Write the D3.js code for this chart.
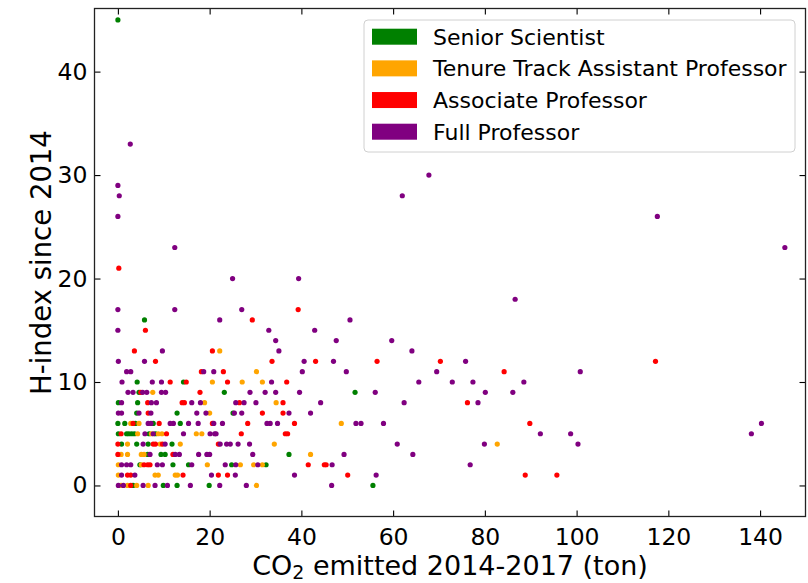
<!DOCTYPE html>
<html>
<head>
<meta charset="utf-8">
<script src="https://cdn.jsdelivr.net/npm/d3@7"></script>
<style>
  html, body { margin: 0; padding: 0; background: #fff; }
  svg { display: block; font-family: "DejaVu Sans", sans-serif; }
</style>
</head>
<body>
<svg id="chart" width="808" height="583"></svg>
<script>
// Positions: [CO2 emitted 2014-2017 (ton), H-index since 2014]
const seniorScientist = [
  [0.0,45],[5.8,16],[4.2,10],[14.3,10],[4.6,9],[23.2,9],[51.7,9],
  [0.1,8],[4.3,8],[4.1,7],[12.9,7],[25.1,7],
  [0.0,6],[1.5,6],[3.8,6],[7.7,6],[13.6,6],
  [0.1,5],[1.9,5],[2.4,5],[3.0,5],[3.6,5],[6.8,5],[8.2,5],
  [0.8,4],[4.1,4],[6.6,4],[11.8,4],
  [6.5,3],[9.4,3],[10.3,3],[37.3,3],
  [4.8,2],[12.0,2],[15.4,2],[24.8,2],[32.3,2],
  [3.3,0],[9.9,0],[12.9,0],[19.9,0],[55.6,0]
];

const tenureTrack = [
  [22.2,13],[30.2,11],[20.6,10],[27.1,10],[31.5,10],[7.6,9],
  [18.9,8],[34.5,8],[20.0,7],[2.8,6],[4.6,6],[48.7,6],
  [4.3,5],[7.3,5],[8.8,5],[9.6,5],[17.1,5],[18.3,5],
  [2.1,4],[9.2,4],[13.6,4],[34.1,4],[82.7,4],
  [0.7,3],[2.1,3],[5.1,3],[5.7,3],[42.0,3],
  [0.1,2],[5.1,2],[19.5,2],[26.7,2],[29.6,2],[31.5,2],
  [0.1,1],[8.1,1],[8.8,1],[12.5,1],[13.0,1],
  [0.7,0],[2.1,0],[4.1,0],[6.6,0],[30.2,0]
];

const associateProfessor = [
  [0.2,21],[39.3,17],[29.3,16],[6.0,15],[3.6,13],[20.6,13],
  [8.2,12],[33.6,12],[43.1,12],[56.5,12],[70.3,12],[117.2,12],
  [18.2,11],[23.0,11],[84.2,11],
  [11.4,10],[14.9,10],[23.9,10],[36.8,10],
  [5.0,9],[17.9,9],
  [6.5,8],[14.0,8],[14.5,8],[26.5,8],[36.0,8],[76.2,8],
  [6.6,7],[31.5,7],[36.0,7],
  [3.3,6],[9.0,6],[20.6,6],[28.3,6],[38.5,6],[89.8,6],
  [0.7,5],[10.6,5],[26.9,5],[36.5,5],[37.0,5],
  [0.0,4],[7.7,4],[8.2,4],[9.7,4],[21.9,4],
  [0.0,3],[12.0,3],
  [5.7,2],[6.5,2],[7.0,2],[41.5,2],[45.0,2],[45.4,2],
  [2.1,1],[2.8,1],[14.2,1],[21.9,1],[23.9,1],[50.1,1],[88.8,1],[95.7,1],
  [2.8,0]
];

const fullProfessor = [
  [2.7,33],[67.8,30],[0.0,29],[0.3,28],[62.0,28],[0.0,26],[117.6,26],
  [12.4,23],[145.4,23],[25.0,20],[39.4,20],[86.6,18],
  [0.0,17],[12.4,17],[27.0,17],[22.2,16],[50.6,16],
  [0.0,15],[32.9,15],[42.9,15],[34.4,14],[47.6,14],[59.7,14],
  [9.7,13],[35.1,13],[64.1,13],
  [0.1,12],[5.8,12],[40.6,12],[47.0,12],[75.8,12],
  [1.9,11],[2.8,11],[18.7,11],[20.9,11],[40.2,11],[49.8,11],[69.5,11],[100.8,11],
  [0.9,10],[7.5,10],[9.5,10],[33.5,10],[65.6,10],[72.9,10],[77.4,10],[88.5,10],
  [2.2,9],[3.3,9],[5.4,9],[6.3,9],[9.5,9],[10.4,9],[28.8,9],[32.1,9],[34.4,9],
  [39.6,9],[56.1,9],[80.1,9],[86.1,9],
  [0.8,8],[7.3,8],[8.4,8],[16.1,8],[18.0,8],[25.7,8],[27.5,8],[30.1,8],[44.2,8],
  [62.4,8],[78.5,8],
  [0.1,7],[0.8,7],[4.6,7],[7.2,7],[17.2,7],[19.2,7],[25.4,7],[27.0,7],[37.3,7],[42.0,7],
  [6.6,6],[7.2,6],[11.4,6],[12.1,6],[15.4,6],[17.5,6],[20.9,6],[22.8,6],[32.5,6],
  [33.2,6],[34.8,6],[51.9,6],[53.0,6],[57.9,6],[140.3,6],
  [5.9,5],[7.7,5],[14.3,5],[20.1,5],[21.1,5],[21.4,5],[92.1,5],[98.7,5],[138.1,5],
  [5.5,4],[10.3,4],[22.3,4],[23.7,4],[24.5,4],[26.2,4],[28.7,4],[60.9,4],[79.9,4],[100.3,4],
  [7.0,3],[12.5,3],[13.4,3],[17.6,3],[19.4,3],[20.0,3],[29.4,3],[49.3,3],[64.3,3],
  [0.8,2],[1.9,2],[2.8,2],[8.6,2],[9.7,2],[16.1,2],[23.4,2],[25.7,2],[30.5,2],[46.7,2],[76.8,2],
  [0.8,1],[3.7,1],[20.4,1],[25.6,1],[38.5,1],[56.3,1],
  [0.1,0],[1.2,0],[5.5,0],[8.1,0],[10.8,0],[15.8,0],[22.2,0],[28.0,0],[46.6,0]
];

const categories = ["Senior Scientist", "Tenure Track Assistant Professor", "Associate Professor", "Full Professor"];
const categoryColors = ["green", "orange", "red", "purple"];
const seriesPoints = [seniorScientist, tenureTrack, associateProfessor, fullProfessor];

const xTicks = [0, 20, 40, 60, 80, 100, 120, 140];
const yTicks = [0, 10, 20, 30, 40];
const xLimits = [-5.1, 149.9];
const yLimits = [-3.0, 46.1];

const svg = d3.select("#chart");
const plot = { left: 94.5, right: 805.5, top: 8.5, bottom: 516.5 };

const x = d3.scaleLinear().domain(xLimits).range([plot.left, plot.right]);
const y = d3.scaleLinear().domain(yLimits).range([plot.bottom, plot.top]);

// points
const marks = svg.append("g");
seriesPoints.forEach((pts, i) => {
  marks.append("g")
    .selectAll("circle")
    .data(pts)
    .join("circle")
    .attr("cx", d => x(d[0]))
    .attr("cy", d => y(d[1]))
    .attr("r", 2.6)
    .attr("fill", categoryColors[i]);
});

// axes with inward ticks on all four sides
const tickLen = 6;
const styleAxis = g => {
  g.select(".domain").remove();
  g.selectAll(".tick line").attr("stroke", "#000").attr("stroke-width", 1.1);
  g.selectAll(".tick text").attr("fill", "#000").attr("font-size", 23.5)
    .attr("font-family", "DejaVu Sans, sans-serif");
};

svg.append("g")
  .attr("transform", `translate(0,${plot.bottom})`)
  .call(d3.axisBottom(x).tickValues(xTicks).tickSizeInner(-tickLen).tickSizeOuter(0).tickPadding(12))
  .call(styleAxis);

svg.append("g")
  .attr("transform", `translate(0,${plot.top})`)
  .call(d3.axisTop(x).tickValues(xTicks).tickSizeInner(-tickLen).tickSizeOuter(0).tickFormat(""))
  .call(styleAxis);

svg.append("g")
  .attr("transform", `translate(${plot.left},0)`)
  .call(d3.axisLeft(y).tickValues(yTicks).tickSizeInner(-tickLen).tickSizeOuter(0).tickPadding(7))
  .call(styleAxis);

svg.append("g")
  .attr("transform", `translate(${plot.right},0)`)
  .call(d3.axisRight(y).tickValues(yTicks).tickSizeInner(-tickLen).tickSizeOuter(0).tickFormat(""))
  .call(styleAxis);

// frame
svg.append("rect")
  .attr("x", plot.left).attr("y", plot.top)
  .attr("width", plot.right - plot.left).attr("height", plot.bottom - plot.top)
  .attr("fill", "none").attr("stroke", "#222").attr("stroke-width", 1.3);

// axis titles
const xTitle = svg.append("text")
  .attr("x", (plot.left + plot.right) / 2)
  .attr("y", 575)
  .attr("text-anchor", "middle")
  .attr("font-size", 27)
  .attr("fill", "#000");
xTitle.append("tspan").text("CO");
xTitle.append("tspan").attr("font-size", 19).attr("dy", 4).text("2");
xTitle.append("tspan").attr("dy", -4).text(" emitted 2014-2017 (ton)");

svg.append("text")
  .attr("transform", `translate(51,${(plot.top + plot.bottom) / 2}) rotate(-90)`)
  .attr("text-anchor", "middle")
  .attr("font-size", 27.5)
  .attr("fill", "#000")
  .text("H-index since 2014");

// legend
const legend = svg.append("g");
legend.append("rect")
  .attr("x", 364).attr("y", 20).attr("width", 431).attr("height", 132)
  .attr("rx", 4)
  .attr("fill", "#fff").attr("fill-opacity", 0.8)
  .attr("stroke", "#d0d0d0").attr("stroke-width", 1);

const rowY = d3.scalePoint().domain(categories).range([36.7, 131.7]);
const rows = legend.selectAll("g.row")
  .data(categories)
  .join("g")
  .attr("class", "row")
  .attr("transform", d => `translate(0,${rowY(d)})`);
rows.append("rect")
  .attr("x", 372).attr("y", -8).attr("width", 45).attr("height", 16)
  .attr("fill", (d, i) => categoryColors[i]);
rows.append("text")
  .attr("x", 433).attr("dy", "0.36em")
  .attr("font-size", 22)
  .attr("fill", "#000")
  .text(d => d);
</script>
</body>
</html>
